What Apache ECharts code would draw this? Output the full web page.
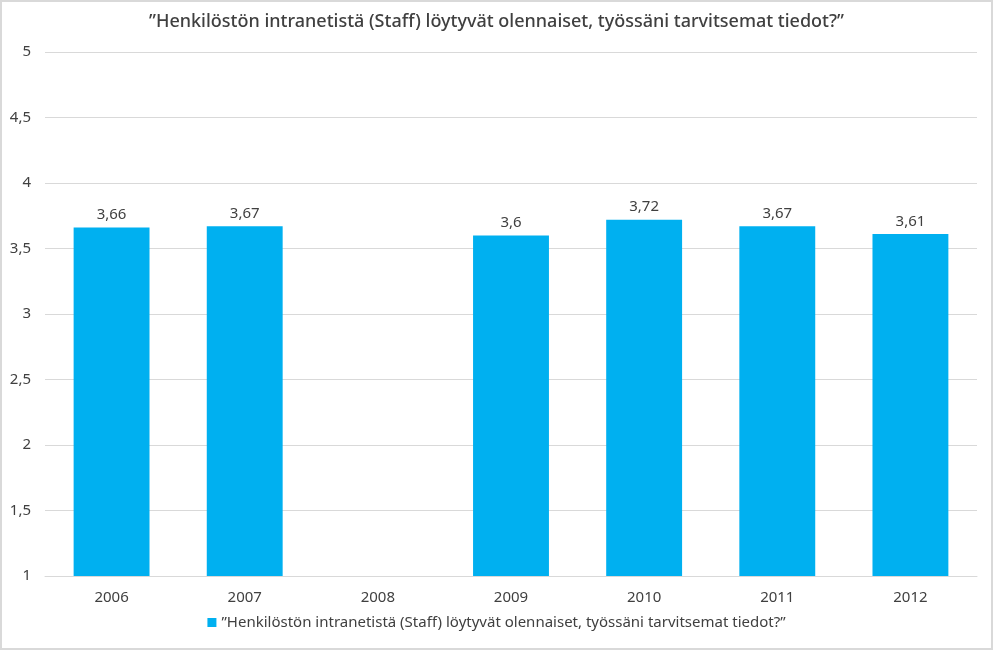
<!DOCTYPE html>
<html><head><meta charset="utf-8">
<script src="https://cdn.jsdelivr.net/npm/echarts@6/dist/echarts.min.js"></script>
<style>html,body{margin:0;padding:0;background:#fff}#c{width:993px;height:650px;box-sizing:border-box;border:2px solid #d9d9d9}</style>
</head><body><div id="c"></div>
<script>
const titleText = '”Henkilöstön intranetistä (Staff) löytyvät olennaiset, työssäni tarvitsemat tiedot?”';
const categories = ['2006','2007','2008','2009','2010','2011','2012'];
const values = [3.66, 3.67, null, 3.6, 3.72, 3.67, 3.61];
const yTicks = [1, 1.5, 2, 2.5, 3, 3.5, 4, 4.5, 5];
const fmt = v => String(v).replace('.', ',');
const FF = '"Noto Sans", "Open Sans", sans-serif';
const chart = echarts.init(document.getElementById('c'));
chart.setOption({
  animation: false,
  textStyle: {fontFamily: FF, color: '#404040'},
  title: {text: titleText, left: 'center', top: 6,
    textStyle: {fontSize: 18, fontWeight: 500, color: '#404040', fontFamily: FF}},
  grid: {left: 43, right: 14, top: 50, bottom: 72},
  legend: {bottom: 13, left: 'center', itemWidth: 9, itemHeight: 9, icon: 'rect', itemGap: 4,
    textStyle: {fontSize: 15, color: '#404040', fontFamily: FF}},
  xAxis: {type: 'category', data: categories,
    axisLine: {lineStyle: {color: '#d9d9d9'}}, axisTick: {show: false},
    axisLabel: {fontSize: 15, color: '#404040', margin: 14, fontFamily: FF}},
  yAxis: {type: 'value', min: yTicks[0], max: yTicks[yTicks.length-1], interval: 0.5,
    axisLine: {show: false}, axisTick: {show: false},
    splitLine: {lineStyle: {color: '#d9d9d9'}},
    axisLabel: {fontSize: 15, color: '#404040', margin: 14, fontFamily: FF, formatter: fmt}},
  series: [{name: titleText, type: 'bar', data: values, barWidth: '57%',
    itemStyle: {color: '#00B0F0'},
    label: {show: true, position: 'top', fontSize: 15, color: '#404040', distance: 5, fontFamily: FF, formatter: p => fmt(p.value)}}]
});
</script></body></html>
